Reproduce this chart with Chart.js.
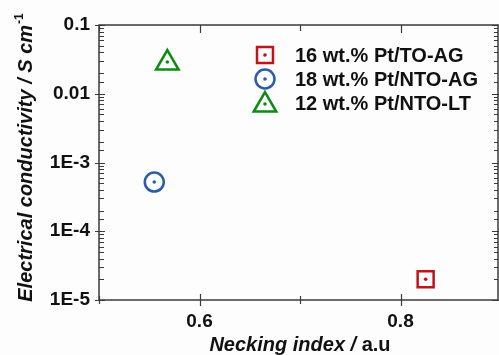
<!DOCTYPE html>
<html>
<head>
<meta charset="utf-8">
<script src="https://cdn.jsdelivr.net/npm/chart.js@4.4.1/dist/chart.umd.min.js"></script>
<style>
  html, body { margin: 0; padding: 0; background: #fdfdfd; }
  #wrap { width: 499px; height: 355px; }
</style>
</head>
<body>
<div id="wrap"><canvas id="chart" width="499" height="355"></canvas></div>
<script>
// data
var seriesNames = ["16 wt.% Pt/TO-AG", "18 wt.% Pt/NTO-AG", "12 wt.% Pt/NTO-LT"];
var neckingIndex = [0.825, 0.555, 0.568];
var conductivity = [2.0e-5, 5.2e-4, 0.028];
var yTickValues = [1e-5, 1e-4, 1e-3, 0.01, 0.1];
var yTickLabels = ["1E-5", "1E-4", "1E-3", "0.01", "0.1"];
var xTickLabels = ["0.6", "0.8"];

var colors = ["#c0141c", "#2b5cab", "#0d8a12"];
var styles = ["rect", "circle", "triangle"];
var radii = [11.3, 9.5, 13];

var datasets = seriesNames.map(function (name, i) {
  return {
    label: name,
    data: [{ x: neckingIndex[i], y: conductivity[i] }],
    pointStyle: styles[i],
    pointRadius: radii[i],
    pointHoverRadius: radii[i],
    borderColor: colors[i],
    backgroundColor: "rgba(0,0,0,0)",
    pointBorderWidth: 2.5,
    showLine: false
  };
});

function yLabel(v) {
  for (var i = 0; i < yTickValues.length; i++) {
    if (Math.abs(Math.log10(v) - Math.log10(yTickValues[i])) < 1e-6) return yTickLabels[i];
  }
  return "";
}

var FONT = "'Liberation Sans', Arial, sans-serif";

// tick marks, frame, centre dots, legend and axis titles
var decorations = {
  id: "decorations",
  afterDatasetsDraw: function (chart) {
    var ctx = chart.ctx;
    var a = chart.chartArea;
    var xs = chart.scales.x, ys = chart.scales.y;
    ctx.save();
    // centre dots
    chart.data.datasets.forEach(function (ds, i) {
      chart.getDatasetMeta(i).data.forEach(function (pt) {
        ctx.fillStyle = ds.borderColor;
        ctx.beginPath();
        ctx.arc(pt.x, pt.y + (ds.pointStyle === "triangle" ? -1 : 0), 1.8, 0, Math.PI * 2);
        ctx.fill();
      });
    });

    // frame
    ctx.strokeStyle = "#3a3a3a";
    ctx.lineWidth = 1.5;
    ctx.strokeRect(a.left, a.top, a.right - a.left, a.bottom - a.top);

    // y ticks (left and right)
    ctx.lineWidth = 1.2;
    ys.ticks.forEach(function (t) {
      var y = Math.round(ys.getPixelForValue(t.value)) + 0.5;
      var major = yLabel(t.value) !== "";
      ctx.beginPath();
      if (major) {
        ctx.moveTo(a.left - 4, y); ctx.lineTo(a.left + 6, y);
        ctx.moveTo(a.right - 6, y); ctx.lineTo(a.right + 4, y);
      } else {
        ctx.moveTo(a.left, y); ctx.lineTo(a.left + 5, y);
        ctx.moveTo(a.right - 4, y); ctx.lineTo(a.right, y);
      }
      ctx.stroke();
    });
    // x ticks (bottom and top)
    xs.ticks.forEach(function (t) {
      var x = Math.round(xs.getPixelForValue(t.value)) + 0.5;
      var major = t.label !== "";
      var len = major ? 6 : 4;
      ctx.beginPath();
      ctx.moveTo(x, a.bottom + len); ctx.lineTo(x, a.bottom - len);
      ctx.moveTo(x, a.top); ctx.lineTo(x, a.top + (major ? 8 : 6));
      ctx.stroke();
    });

    // legend
    var lx = 265, lys = [55, 79, 103];
    ctx.textBaseline = "middle";
    ctx.textAlign = "left";
    chart.data.datasets.forEach(function (ds, i) {
      ctx.strokeStyle = ds.borderColor;
      ctx.lineWidth = 2.5;
      ctx.beginPath();
      if (ds.pointStyle === "rect") {
        var s = ds.pointRadius * Math.SQRT1_2;
        ctx.rect(lx - s, lys[i] - s, 2 * s, 2 * s);
      } else if (ds.pointStyle === "circle") {
        ctx.arc(lx, lys[i], ds.pointRadius, 0, Math.PI * 2);
      } else {
        var r = ds.pointRadius, cy = lys[i] + 2;
        ctx.moveTo(lx, cy - r);
        ctx.lineTo(lx + r * Math.cos(Math.PI / 6), cy + r / 2);
        ctx.lineTo(lx - r * Math.cos(Math.PI / 6), cy + r / 2);
        ctx.closePath();
      }
      ctx.stroke();
      ctx.fillStyle = ds.borderColor;
      ctx.beginPath();
      ctx.arc(lx, lys[i] + (ds.pointStyle === "triangle" ? 1 : 0), 1.8, 0, Math.PI * 2);
      ctx.fill();
      ctx.fillStyle = "#111";
      ctx.font = "bold 20px " + FONT;
      ctx.fillText(ds.label, 295, lys[i] + 1);
    });

    // x axis title
    ctx.fillStyle = "#111";
    ctx.textBaseline = "alphabetic";
    var p1 = "Necking index / ", p2 = "a.u";
    ctx.font = "italic bold 20px " + FONT;
    var w1 = ctx.measureText(p1).width;
    ctx.font = "bold 20px " + FONT;
    var w2 = ctx.measureText(p2).width;
    var sx = 300 - (w1 + w2) / 2;
    ctx.font = "italic bold 20px " + FONT;
    ctx.fillText(p1, sx, 351);
    ctx.font = "bold 20px " + FONT;
    ctx.fillText(p2, sx + w1, 351);

    // y axis title
    ctx.translate(32, 158);
    ctx.rotate(-Math.PI / 2);
    var t1 = "Electrical conductivity / S cm", t2 = "-1";
    ctx.font = "italic bold 20px " + FONT;
    var tw1 = ctx.measureText(t1).width;
    ctx.font = "bold 12px " + FONT;
    var tw2 = ctx.measureText(t2).width;
    var ty = -(tw1 + tw2) / 2;
    ctx.font = "italic bold 20px " + FONT;
    ctx.fillText(t1, ty, 0);
    ctx.font = "bold 12px " + FONT;
    ctx.fillText(t2, ty + tw1 + 1, -9);
    ctx.restore();
  }
};

function noPad(s) { s.paddingLeft = 0; s.paddingRight = 0; s.paddingTop = 0; s.paddingBottom = 0; }

new Chart(document.getElementById("chart"), {
  type: "scatter",
  data: { datasets: datasets },
  options: {
    responsive: false,
    animation: false,
    layout: { autoPadding: false, padding: { top: 25, right: 1, left: 0, bottom: 0 } },
    plugins: { legend: { display: false }, tooltip: { enabled: false } },
    scales: {
      x: {
        type: "linear",
        min: 0.5,
        max: 0.897,
        afterFit: function (s) { s.height = 55; noPad(s); },
        afterBuildTicks: function (s) {
          s.ticks = [0.5, 0.6, 0.7, 0.8].map(function (v) { return { value: v }; });
        },
        grid: { display: false, drawTicks: false },
        border: { display: false },
        ticks: {
          autoSkip: false,
          maxRotation: 0,
          padding: 10,
          color: "#111",
          font: { family: FONT, size: 19, weight: "bold" },
          callback: function (v) {
            var s = v.toFixed(1);
            return xTickLabels.indexOf(s) >= 0 ? s : "";
          }
        }
      },
      y: {
        type: "logarithmic",
        min: 1e-5,
        max: 0.1,
        afterFit: function (s) { s.width = 99; noPad(s); },
        grid: { display: false, drawTicks: false },
        border: { display: false },
        ticks: {
          autoSkip: false,
          padding: 9,
          color: "#111",
          font: { family: FONT, size: 19, weight: "bold" },
          callback: function (v) { return yLabel(v); }
        }
      }
    }
  },
  plugins: [decorations]
});
</script>
</body>
</html>
